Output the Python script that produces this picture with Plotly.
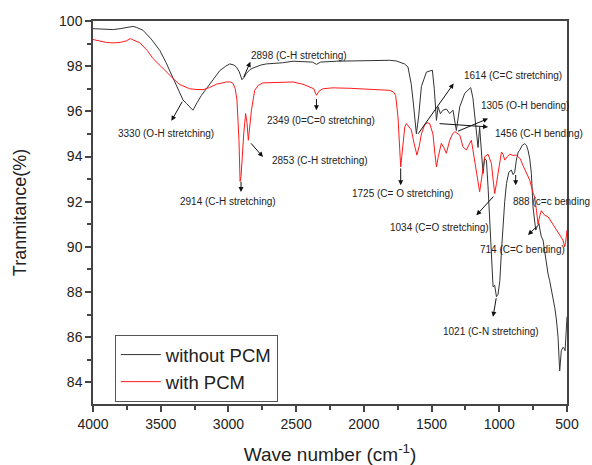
import plotly.graph_objects as go

# ---------------- data ----------------
wn_without = [4000, 3900, 3850, 3800, 3750, 3705, 3680, 3631, 3570, 3507, 3460, 3409, 3360, 3335, 3310, 3285,
              3262, 3230, 3200, 3163, 3110, 3064, 3020, 2990, 2960, 2941, 2920, 2900, 2885, 2867, 2840, 2818,
              2760, 2720, 2600, 2523, 2450, 2380, 2350, 2320, 2200, 2000, 1809, 1760, 1700, 1674, 1650, 1637,
              1625, 1612, 1595, 1575, 1538, 1494, 1480, 1464, 1452, 1435, 1416, 1390, 1366, 1342, 1317, 1292,
              1255, 1211, 1195, 1182, 1157, 1145, 1132, 1120, 1108, 1095, 1083, 1071, 1058, 1046, 1034, 1021,
              1009, 996, 984, 972, 960, 947, 930, 911, 898, 886, 874, 860, 849, 830, 812, 800, 788, 775, 763,
              751, 740, 731, 720, 707, 698, 689, 677, 665, 652, 640, 628, 615, 603, 590, 578, 566, 554, 542,
              530, 520, 514, 507, 500]
t_without = [99.66, 99.64, 99.62, 99.66, 99.70, 99.76, 99.72, 99.59, 99.2, 98.7, 98.15, 97.5, 96.8, 96.5, 96.35,
             96.2, 96.05, 96.4, 96.7, 97.0, 97.4, 97.8, 98.0, 98.1, 98.05, 97.96, 97.75, 97.4, 97.5, 97.68, 97.85,
             97.92, 98.05, 98.1, 98.15, 98.22, 98.2, 98.18, 98.08, 98.18, 98.22, 98.24, 98.26, 98.23, 98.1, 97.96,
             97.2, 96.5, 95.7, 95.0, 95.8, 97.1, 97.74, 97.82, 97.0, 95.6, 96.2, 95.9, 96.05, 96.1, 95.9, 96.05,
             95.15, 96.2, 96.8, 97.05, 96.6, 95.75, 94.4, 95.3, 94.3, 93.25, 93.9, 93.84, 92.65, 91.3, 89.4, 88.23,
             88.3, 87.79, 87.9, 88.5, 89.8, 91.0, 92.0, 92.8, 93.3, 93.4, 93.2, 93.3, 93.84, 94.2, 94.28, 94.5,
             94.57, 94.5, 94.28, 93.9, 93.25, 91.77, 91.0, 90.74, 90.9, 91.03, 90.7, 90.44, 90.3, 89.8, 89.1,
             88.8, 88.5, 88.1, 87.6, 87.3, 86.76, 86.0, 84.5, 85.4, 85.55, 85.5, 85.4, 86.0, 86.9]

wn_with = [4000, 3950, 3900, 3852, 3800, 3754, 3724, 3700, 3655, 3600, 3557, 3500, 3458, 3400, 3360, 3320, 3286,
           3240, 3188, 3140, 3089, 3050, 3015, 2985, 2966, 2950, 2937, 2922, 2914, 2907, 2895, 2887, 2873, 2863,
           2853, 2843, 2830, 2806, 2780, 2745, 2600, 2523, 2450, 2400, 2370, 2350, 2330, 2302, 2228, 2100, 2000,
           1809, 1780, 1765, 1748, 1735, 1728, 1720, 1711, 1698, 1686, 1665, 1649, 1630, 1608, 1590, 1575, 1551,
           1530, 1514, 1490, 1475, 1464, 1450, 1428, 1410, 1391, 1366, 1345, 1329, 1292, 1268, 1243, 1225, 1206,
           1195, 1182, 1160, 1145, 1132, 1108, 1083, 1058, 1046, 1034, 1021, 1009, 995, 984, 972, 960, 940, 923,
           900, 874, 862, 845, 825, 800, 775, 751, 739, 725, 714, 700, 689, 665, 640, 615, 591, 565, 542, 530,
           517, 510, 500]
t_with = [99.18, 99.12, 99.05, 99.03, 99.05, 99.12, 99.22, 99.15, 99.04, 98.7, 98.34, 98.0, 97.74, 97.4, 97.19,
          97.08, 97.0, 96.97, 96.96, 97.05, 97.2, 97.25, 97.3, 97.3, 97.24, 97.0, 96.5, 94.7, 92.9, 93.1, 94.5,
          95.0, 95.9, 95.5, 94.72, 95.2, 96.05, 96.93, 97.15, 97.26, 97.28, 97.3, 97.2, 97.08, 97.0, 96.71, 96.9,
          97.0, 97.04, 97.02, 97.0, 96.93, 96.85, 96.7, 95.75, 94.3, 93.54, 94.0, 94.7, 95.3, 95.46, 95.3, 95.17,
          94.6, 94.06, 94.5, 95.0, 95.4, 95.5, 95.46, 95.0, 94.1, 93.54, 94.0, 94.58, 94.4, 94.14, 94.72, 95.0,
          95.1, 94.95, 94.43, 94.28, 94.5, 94.72, 94.3, 93.84, 93.0, 92.44, 92.97, 93.99, 94.1, 93.69, 93.0,
          92.36, 92.8, 93.25, 93.8, 94.2, 94.1, 93.84, 94.0, 94.1, 94.05, 94.06, 93.99, 93.9, 93.6, 93.3, 92.95,
          92.4, 92.2, 91.6, 91.0, 91.4, 91.6, 91.4, 91.33, 91.1, 90.88, 90.6, 90.44, 90.3, 90.0, 90.2, 90.74]

series_names = ["without PCM", "with PCM"]

x_ticks = [4000, 3500, 3000, 2500, 2000, 1500, 1000, 500]
y_ticks = [84, 86, 88, 90, 92, 94, 96, 98, 100]

# peak labels: text, label position (wavenumber, %T)
label_texts = ["3330 (O-H stretching)", "2898 (C-H stretching)", "2914 (C-H stretching)",
               "2853 (C-H stretching)", "2349 (0=C=0 stretching)", "1725 (C= O stretching)",
               "1614 (C=C stretching)", "1305 (O-H bending)", "1456 (C-H bending)",
               "888 (c=c bending", "1034 (C=O stretching)", "714 (C=C bending)", "1021 (C-N stretching)"]
label_x = [3458, 2481, 3003, 2322, 2317, 1715, 902, 812, 709, 617, 1440, 831, 1058]
label_y = [95.04, 98.48, 92.02, 93.84, 95.61, 92.36, 97.60, 96.27, 95.02, 91.99, 90.86, 89.88, 86.24]

# arrows: tail on the curve -> head toward the label
arrow_tail_x = [3335, 2892, 2907, 2843, 2350, 1728, 1607, 1317, 1452, 879, 1034, 714, 1021]
arrow_tail_y = [96.49, 97.45, 92.95, 94.65, 96.61, 93.54, 94.94, 95.09, 95.46, 93.25, 92.29, 90.96, 87.79]
arrow_head_x = [3421, 2838, 2907, 2745, 2350, 1728, 1337, 1083, 1083, 879, 1169, 788, 1046]
arrow_head_y = [95.58, 98.19, 92.43, 93.98, 96.05, 92.73, 97.23, 95.68, 95.31, 92.73, 91.40, 90.52, 86.90]

# ---------------- figure ----------------
FONT = "Arial, Liberation Sans, sans-serif"

fig = go.Figure()
fig.add_trace(go.Scatter(x=wn_without, y=t_without, mode="lines", name=series_names[0],
                         line=dict(color="#333333", width=1)))
fig.add_trace(go.Scatter(x=wn_with, y=t_with, mode="lines", name=series_names[1],
                         line=dict(color="#ff1a1a", width=1)))

annotations = []
for t, lx, ly in zip(label_texts, label_x, label_y):
    annotations.append(dict(x=lx, y=ly, xref="x", yref="y", text=t, showarrow=False,
                            font=dict(family=FONT, size=10, color="#222222")))
for tx, ty, hx, hy in zip(arrow_tail_x, arrow_tail_y, arrow_head_x, arrow_head_y):
    annotations.append(dict(x=hx, y=hy, xref="x", yref="y", ax=tx, ay=ty, axref="x", ayref="y",
                            text="", showarrow=True, arrowhead=2, arrowsize=1, arrowwidth=1,
                            arrowcolor="#111111", standoff=0, startstandoff=0))

axis_common = dict(showline=True, linecolor="#444444", linewidth=1.5, mirror=True,
                   ticks="outside", ticklen=6, tickwidth=1.5, tickcolor="#444444",
                   showgrid=False, zeroline=False, automargin=False,
                   tickfont=dict(family=FONT, size=14, color="#222222"))

fig.update_layout(
    width=592, height=465,
    margin=dict(l=93, r=25, t=21, b=61),
    paper_bgcolor="white", plot_bgcolor="white",
    font=dict(family=FONT, color="#222222"),
    xaxis=dict(range=[4000, 500], tickvals=x_ticks,
               minor=dict(ticks="outside", ticklen=4, dtick=250, tick0=500, tickcolor="#444444", tickwidth=1.5),
               title=dict(text="Wave number (cm<sup>-1</sup>)", font=dict(family=FONT, size=19, color="#222222"),
                          standoff=22),
               **axis_common),
    yaxis=dict(range=[83.04, 100], tickvals=y_ticks,
               minor=dict(ticks="outside", ticklen=4, dtick=1, tick0=84, tickcolor="#444444", tickwidth=1.5),
               title=dict(text="Tranmitance(%)", font=dict(family=FONT, size=18, color="#222222"),
                          standoff=28),
               **axis_common),
    legend=dict(x=0.046, y=0.18, xanchor="left", yanchor="top",
                bgcolor="white", bordercolor="#555555", borderwidth=1,
                font=dict(family=FONT, size=18.5, color="#222222"), tracegroupgap=0,
                itemwidth=40),
    annotations=annotations,
    showlegend=True,
)

fig.write_html("out.html")
